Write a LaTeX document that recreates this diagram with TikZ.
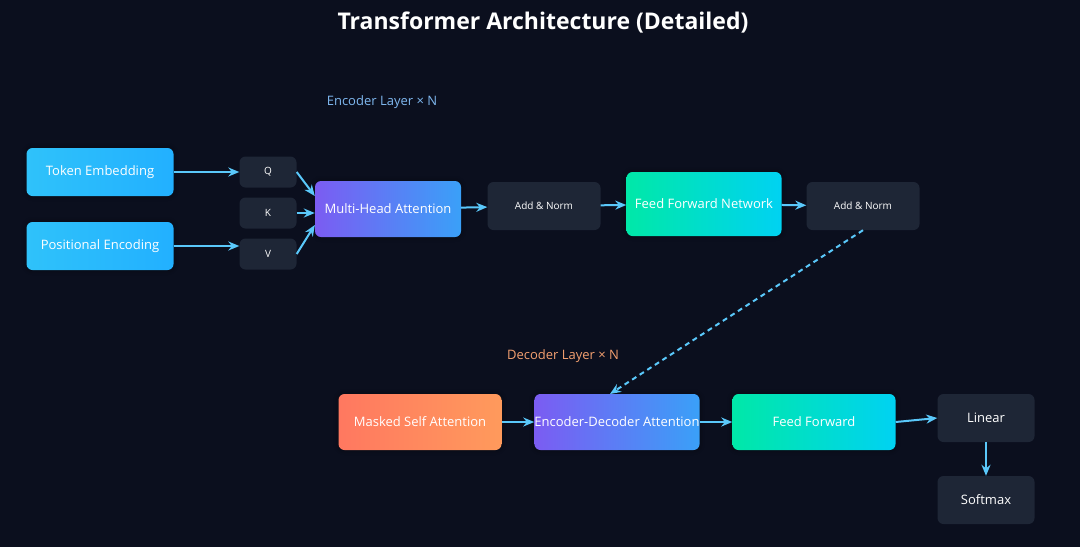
\documentclass[tikz,border=0pt]{standalone}
\usepackage{fontspec}
\setmainfont{Open Sans}
\usetikzlibrary{arrows.meta,shadows.blur}
\definecolor{bg}{HTML}{0B0F1E}
\definecolor{dark}{HTML}{1E2636}
\definecolor{arr}{HTML}{5AC8FA}
\definecolor{cyA}{HTML}{2FC2FA}
\definecolor{cyB}{HTML}{22B0FF}
\definecolor{puA}{HTML}{7B5CF2}
\definecolor{puB}{HTML}{3AA0F8}
\definecolor{grA}{HTML}{00E8A8}
\definecolor{grB}{HTML}{00D2F2}
\definecolor{orA}{HTML}{FF7860}
\definecolor{orB}{HTML}{FF9A5C}
\definecolor{enc}{HTML}{7FB8F0}
\definecolor{dec}{HTML}{F4A070}
\begin{document}
\begin{tikzpicture}[x=1pt,y=-1pt,
  box/.style={rounded corners=6pt,minimum width=#1,inner sep=0pt,text=white,font=\fontsize{13}{15}\selectfont},
  grad/.style 2 args={box=#1,left color=#2,right color=#2,draw=none},
  cy/.style={box=147pt,minimum height=48pt,left color=cyA,right color=cyB,blur shadow={shadow xshift=0pt,shadow yshift=0pt,shadow blur radius=5pt,shadow opacity=40,shadow blur extra rounding=3pt}},
  pu/.style={box=#1,minimum height=56pt,left color=puA,right color=puB,blur shadow={shadow xshift=0pt,shadow yshift=0pt,shadow blur radius=5pt,shadow opacity=40}},
  gr/.style={box=#1,left color=grA,right color=grB,blur shadow={shadow xshift=0pt,shadow yshift=0pt,shadow blur radius=5pt,shadow opacity=40}},
  orr/.style={box=#1,minimum height=56pt,left color=orA,right color=orB,blur shadow={shadow xshift=0pt,shadow yshift=0pt,shadow blur radius=5pt,shadow opacity=40}},
  dk/.style={box=#1,fill=dark},
  ar/.style={draw=arr,line width=2pt,-{Stealth[length=11pt,width=9pt]}}]
\fill[bg] (0,0) rectangle (1080,547);
\useasboundingbox (0,0) rectangle (1080,547);
\node[text=white,font=\bfseries\fontsize{23}{27}\selectfont] (title) at (543,23) {Transformer Architecture (Detailed)};
\node[text=enc,font=\fontsize{13}{15}\selectfont] (encl) at (382,102) {Encoder Layer × N};
\node[text=dec,font=\fontsize{13}{15}\selectfont] (decl) at (563,356) {Decoder Layer × N};
\node[cy] (tok) at (100,172) {Token Embedding};
\node[cy] (pos) at (100,246) {Positional Encoding};
\node[dk=57pt,minimum height=31pt,font=\fontsize{10}{12}\selectfont] (q) at (268,172) {Q};
\node[dk=57pt,minimum height=31pt,font=\fontsize{10}{12}\selectfont] (k) at (268,213) {K};
\node[dk=57pt,minimum height=31pt,font=\fontsize{10}{12}\selectfont] (v) at (268,254) {V};
\node[pu=146pt] (mha) at (388,209) {Multi-Head Attention};
\node[dk=113pt,minimum height=48pt,font=\fontsize{10}{12}\selectfont] (an1) at (544,206) {Add \& Norm};
\node[gr=155pt,minimum height=64pt] (ffn) at (704,204) {Feed Forward Network};
\node[dk=113pt,minimum height=48pt,font=\fontsize{10}{12}\selectfont] (an2) at (863,206) {Add \& Norm};
\node[orr=163pt] (msa) at (420,422) {Masked Self Attention};
\node[pu=165pt] (eda) at (617,422) {Encoder-Decoder Attention};
\node[gr=163pt,minimum height=56pt] (ff) at (814,422) {Feed Forward};
\node[dk=97pt,minimum height=48pt] (lin) at (986,418) {Linear};
\node[dk=97pt,minimum height=48pt] (sm) at (986,500) {Softmax};
\draw[ar] (tok) -- (q);
\draw[ar] (pos.east) -- (v.west|-pos.east);
\draw[ar] (q.east) -- (mha.west|-0,196);
\draw[ar] (k) -- (mha.west|-k);
\draw[ar] (v.east) -- (mha.west|-0,225);
\draw[ar] (mha) -- (an1);
\draw[ar] (an1) -- (ffn);
\draw[ar] (ffn) -- (an2);
\draw[ar,dash pattern=on 5pt off 4pt] (an2.south) -- (610,394);
\draw[ar] (msa) -- (eda);
\draw[ar] (eda) -- (ff);
\draw[ar] (ff.east) -- (lin.west);
\draw[ar] (lin) -- (sm);
\end{tikzpicture}
\end{document}
